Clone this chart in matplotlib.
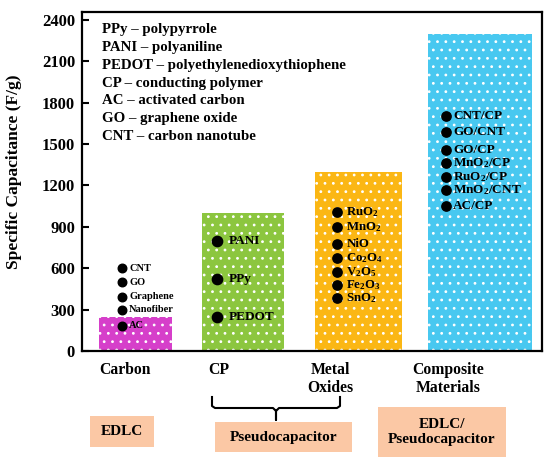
import matplotlib
matplotlib.use("Agg")
import matplotlib.pyplot as plt
from matplotlib.patches import Rectangle
from matplotlib.lines import Line2D

plt.rcParams['font.family'] = ['Liberation Serif', 'DejaVu Serif']
plt.rcParams['font.weight'] = 'bold'
plt.rcParams['mathtext.fontset'] = 'custom'
plt.rcParams['mathtext.rm'] = 'Liberation Serif:bold'
plt.rcParams['mathtext.bf'] = 'Liberation Serif:bold'
plt.rcParams['mathtext.default'] = 'rm'
plt.rcParams['hatch.color'] = 'white'
plt.rcParams['hatch.linewidth'] = 0.8

# --- data ---
categories = ["Carbon", "CP", "Metal\nOxides", "Composite\nMaterials"]
capacitance = [250, 1000, 1300, 2300]
bar_colors = ["#d63fca", "#8cc63f", "#fbb714", "#48c8f0"]

carbon_names = ["CNT", "GO", "Graphene", "Nanofiber", "AC"]
carbon_vals = [600, 500, 395, 300, 183]

cp_names = ["PANI", "PPy", "PEDOT"]
cp_vals = [800, 520, 250]

oxide_names = ["RuO$_2$", "MnO$_2$", "NiO", "Co$_2$O$_4$", "V$_2$O$_5$", "Fe$_2$O$_3$", "SnO$_2$"]
oxide_vals = [1005, 900, 775, 675, 575, 480, 385]

composite_names = ["CNT/CP", "GO/CNT", "GO/CP", "MnO$_2$/CP", "RuO$_2$/CP", "MnO$_2$/CNT", "AC/CP"]
composite_vals = [1705, 1585, 1455, 1360, 1262, 1165, 1050]

abbreviations = ["PPy \u2013 polypyrrole", "PANI \u2013 polyaniline",
                 "PEDOT \u2013 polyethylenedioxythiophene", "CP \u2013 conducting polymer",
                 "AC \u2013 activated carbon", "GO \u2013 graphene oxide",
                 "CNT \u2013 carbon nanotube"]

yticks = [0, 300, 600, 900, 1200, 1500, 1800, 2100, 2400]

# --- layout (x in pixel-like units across the axes) ---
bar_x = [53.5, 161, 276.5, 398]
bar_w = [73, 82, 87, 104]
label_x = [43, 137, 248, 366]

W, H = 550, 468
fig = plt.figure(figsize=(W / 100, H / 100), dpi=100)
ax = fig.add_axes([82 / W, 1 - 351 / H, 460 / W, 339 / H])

ax.bar(bar_x, capacitance, width=bar_w, color=bar_colors, hatch='..', linewidth=0)

def put_points(names, vals, cx, dx, size, fs):
    ax.scatter([cx] * len(vals), vals, s=size, color='black', zorder=3)
    for n, v in zip(names, vals):
        ax.text(cx + dx, v, n, fontsize=fs, va='center', ha='left', zorder=4)

put_points(carbon_names, carbon_vals, bar_x[0] - 13.5, 7, 38, 7.5)
put_points(cp_names, cp_vals, bar_x[1] - 26, 12, 55, 9.5)
put_points(oxide_names, oxide_vals, bar_x[2] - 22, 10, 45, 9.3)
put_points(composite_names, composite_vals, bar_x[3] - 34, 7, 45, 9.5)

for i, t in enumerate(abbreviations):
    ax.text(20, 2330 - i * 129, t, fontsize=10.7, va='center', ha='left')

ax.set_xlim(0, 460)
ax.set_ylim(0, 2458)
ax.set_yticks(yticks)
ax.set_xticks(label_x)
ax.set_xticklabels(categories, fontsize=11.3, linespacing=1.15, va='top')
ax.tick_params(axis='x', length=0, pad=8)
ax.tick_params(axis='y', direction='in', length=5, width=1.5, labelsize=12, pad=5)
for s in ax.spines.values():
    s.set_linewidth(1.6)
ax.set_ylabel("Specific Capacitance (F/g)", fontsize=12.5, fontweight='bold')
ax.yaxis.set_label_coords(-0.13, 0.53)

# --- bracket and type boxes below the axes ---
def fx(x):
    return x / W

def fy(y):
    return 1 - y / H

bracket = [(212, 397), (212, 406), (215, 408), (273, 408), (276, 411), (276, 420),
           (276, 411), (279, 408), (337, 408), (340, 406), (340, 397)]
fig.add_artist(Line2D([fx(p[0]) for p in bracket], [fy(p[1]) for p in bracket],
                      color='black', lw=1.5, transform=fig.transFigure))

boxes = [(90, 416, 154, 447, "EDLC"),
         (215, 422, 352, 452, "Pseudocapacitor"),
         (378, 407, 506, 457, "EDLC/\nPseudocapacitor")]
for x0, y0, x1, y1, txt in boxes:
    fig.add_artist(Rectangle((fx(x0), fy(y1)), fx(x1) - fx(x0), fy(y0) - fy(y1),
                             transform=fig.transFigure, facecolor='#fbc8a5', edgecolor='none'))
    fig.text(fx((x0 + x1) / 2), fy((y0 + y1) / 2), txt, fontsize=11, ha='center',
             va='center', linespacing=1.2)

fig.savefig("out.png", dpi=100)
